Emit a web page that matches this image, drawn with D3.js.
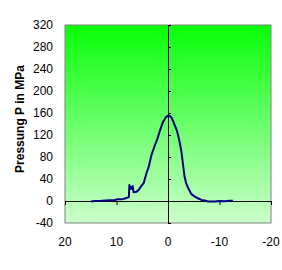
<!DOCTYPE html>
<html>
<head>
<meta charset="utf-8">
<script src="https://cdn.jsdelivr.net/npm/d3@7"></script>
<style>
  body { margin: 0; background: #fff; }
  svg { display: block; font-family: "Liberation Sans", Arial, sans-serif; }
</style>
</head>
<body>
<div id="chart"></div>
<script>
// displacement (reversed axis) and pressure readings
const xVals = [14.95, 14.2, 13.3, 12.1, 11.3, 10.3, 9.8, 9.0, 8.2, 7.6, 7.5, 7.2, 6.85, 6.7, 6.1, 5.7, 5.2, 4.7, 4.2, 3.75,
               3.2, 2.6, 2.1, 1.6, 1.0, 0.45, 0.05, -0.3, -0.65, -1.0, -1.3, -1.65, -1.95, -2.3, -2.6, -2.8, -3.0, -3.2, -3.5, -3.9,
               -4.5, -5.2, -5.8, -6.5, -7.1, -7.8, -9.1, -10.0, -11.0, -12.0, -12.6];
const pVals = [-1, 0, 0, 1, 1.5, 2, 3, 3, 5, 7, 29, 22, 27, 16, 17, 20, 27, 33, 50, 62,
               84, 100, 112, 127, 143, 152, 155, 155, 152, 145, 138, 130, 120, 105, 90, 75, 60, 45, 33, 24,
               13, 8, 5, 2, 1, -1, -1, 0, -0.5, 0.5, 0.5];
const xTicks = [20, 10, 0, -10, -20];
const yTicks = [-40, 0, 40, 80, 120, 160, 200, 240, 280, 320];
const yTitle = "Pressung P in MPa";

const W = 282, H = 270;
const margin = {top: 25, right: 11, bottom: 47, left: 65};

const svg = d3.select("#chart").append("svg").attr("width", W).attr("height", H);

const x = d3.scaleLinear().domain([20, -20]).range([margin.left, W - margin.right]);
const y = d3.scaleLinear().domain([-40, 320]).range([H - margin.bottom, margin.top]);

// background gradient
const grad = svg.append("defs").append("linearGradient")
    .attr("id", "bg").attr("x1", 0).attr("y1", 0).attr("x2", 0).attr("y2", 1);
grad.append("stop").attr("offset", "0%").attr("stop-color", "#08ff08");
grad.append("stop").attr("offset", "100%").attr("stop-color", "#ccffcc");

svg.append("rect")
    .attr("x", x(20)).attr("y", y(320))
    .attr("width", x(-20) - x(20)).attr("height", y(-40) - y(320))
    .attr("fill", "url(#bg)")
    .attr("stroke", "#808080").attr("stroke-width", 1);

// axes crossing at zero
const yAxis = d3.axisRight(y).tickValues(yTicks).tickSize(3).tickFormat("");
svg.append("g").attr("transform", `translate(${x(0)},0)`).call(yAxis)
    .call(g => g.selectAll("path,line").attr("stroke", "#000"));

const xAxis = d3.axisBottom(x).tickValues(xTicks).tickSize(4).tickFormat("");
svg.append("g").attr("transform", `translate(0,${y(0)})`).call(xAxis)
    .call(g => g.selectAll("path,line").attr("stroke", "#000"));

// tick labels outside plot
svg.append("g").selectAll("text").data(yTicks).enter().append("text")
    .attr("x", 53).attr("y", d => y(d) + 4)
    .attr("text-anchor", "end").attr("font-size", 12)
    .text(d => d);

svg.append("g").selectAll("text").data(xTicks).enter().append("text")
    .attr("x", d => x(d)).attr("y", 246)
    .attr("text-anchor", "middle").attr("font-size", 12)
    .text(d => d);

svg.append("text")
    .attr("transform", `translate(24,${(y(320) + y(-40)) / 2 - 5}) rotate(-90)`)
    .attr("text-anchor", "middle").attr("font-size", 12).attr("font-weight", "bold")
    .text(yTitle);

// pressure curve
const pts = xVals.map((v, i) => [v, pVals[i]]);
svg.append("path").datum(pts)
    .attr("fill", "none").attr("stroke", "#000080").attr("stroke-width", 2)
    .attr("stroke-linejoin", "round")
    .attr("d", d3.line().x(d => x(d[0])).y(d => y(d[1])));
</script>
</body>
</html>
